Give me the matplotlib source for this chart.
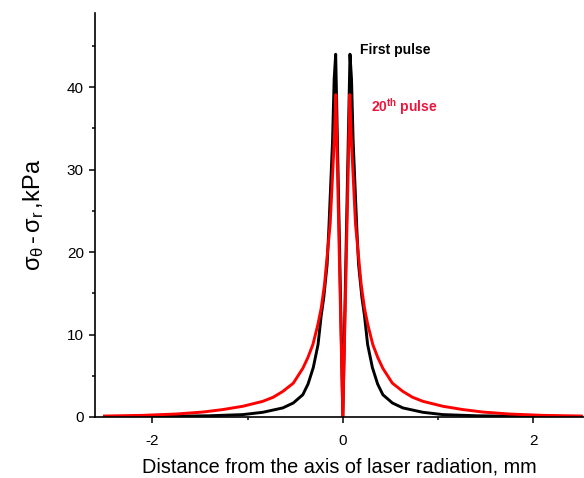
import matplotlib
matplotlib.use("Agg")
import matplotlib.pyplot as plt
from matplotlib.ticker import MultipleLocator, FuncFormatter

plt.rcParams['font.family'] = ['Liberation Sans', 'DejaVu Sans']
plt.rcParams['mathtext.fontset'] = 'custom'
plt.rcParams['mathtext.rm'] = 'Liberation Sans'
plt.rcParams['mathtext.it'] = 'Liberation Sans'
plt.rcParams['mathtext.bf'] = 'Liberation Sans:bold'

# distance from the axis, mm
x_first = [-2.5, -2.0, -1.75, -1.4, -1.05, -0.84, -0.63, -0.52, -0.42, -0.365, -0.31,
           -0.26, -0.227, -0.2, -0.165, -0.146, -0.108, -0.091, -0.075, -0.035, 0.0,
           0.035, 0.075, 0.091, 0.108, 0.146, 0.165, 0.2, 0.227, 0.26, 0.31, 0.365,
           0.42, 0.52, 0.63, 0.84, 1.05, 1.4, 1.75, 2.0, 2.5]
y_first = [0.05, 0.07, 0.1, 0.15, 0.29, 0.57, 1.1, 1.7, 2.7, 4.0, 6.0,
           8.8, 12.3, 14.5, 18.5, 23.0, 33.5, 41.0, 44.0, 21.0, 0.0,
           21.0, 44.0, 41.0, 33.5, 23.0, 18.5, 14.5, 12.3, 8.8, 6.0, 4.0,
           2.7, 1.7, 1.1, 0.57, 0.29, 0.15, 0.1, 0.07, 0.05]

x_twentieth = [-2.5, -2.1, -1.75, -1.47, -1.26, -1.05, -0.84, -0.73, -0.63, -0.52, -0.42,
               -0.367, -0.314, -0.262, -0.227, -0.192, -0.133, -0.09, -0.073, -0.035, 0.0,
               0.035, 0.073, 0.09, 0.133, 0.192, 0.227, 0.262, 0.314, 0.367, 0.42,
               0.52, 0.63, 0.73, 0.84, 1.05, 1.26, 1.47, 1.75, 2.1, 2.5]
y_twentieth = [0.12, 0.2, 0.36, 0.6, 0.9, 1.3, 1.9, 2.4, 3.1, 4.1, 5.9,
               7.2, 8.8, 11.2, 13.2, 16.1, 23.4, 33.5, 39.1, 18.5, 0.0,
               18.5, 39.1, 33.5, 23.4, 16.1, 13.2, 11.2, 8.8, 7.2, 5.9,
               4.1, 3.1, 2.4, 1.9, 1.3, 0.9, 0.6, 0.36, 0.2, 0.12]

fig = plt.figure(figsize=(5.84, 4.78), dpi=100)
ax = fig.add_axes([95/584, 61/478, 489/584, 404/478])

ax.plot(x_first, y_first, color='black', lw=2.1, solid_joinstyle='round')
ax.plot(x_twentieth, y_twentieth, color='#ff0000', lw=2.1, solid_joinstyle='round')

ax.set_xlim(-2.6, 2.53)
ax.set_ylim(0, 49)
ax.spines['top'].set_visible(False)
ax.spines['right'].set_visible(False)
for s in ('left', 'bottom'):
    ax.spines[s].set_linewidth(1.2)

ax.set_xticks([-2, 0, 2])
ax.xaxis.set_major_formatter(FuncFormatter(lambda v, p: f"{v:g}"))
ax.xaxis.set_minor_locator(MultipleLocator(1))
ax.yaxis.set_major_locator(MultipleLocator(10))
ax.yaxis.set_minor_locator(MultipleLocator(5))
ax.tick_params(which='major', direction='out', length=4, width=1.1, labelsize=11)
ax.tick_params(which='minor', direction='out', length=2.5, width=1.1)
ax.tick_params(axis='x', which='major', pad=8)
ax.tick_params(axis='y', which='major', pad=4)

ax.set_xlabel('Distance from the axis of laser radiation, mm', fontsize=14.3, labelpad=7)
ax.set_ylabel(r'$\sigma_{\theta}\,$-$\,\sigma_{r}\,$,kPa', fontsize=17, labelpad=15)

ax.text(0.178, 44.5, 'First pulse', fontsize=10, fontweight='bold', color='black',
        ha='left', va='center')
ax.text(0.30, 37.7, r'20$^{\mathbf{th}}$ pulse', fontsize=10, fontweight='bold',
        color='#f0143c', ha='left', va='center')

fig.savefig('out.png', dpi=100)
